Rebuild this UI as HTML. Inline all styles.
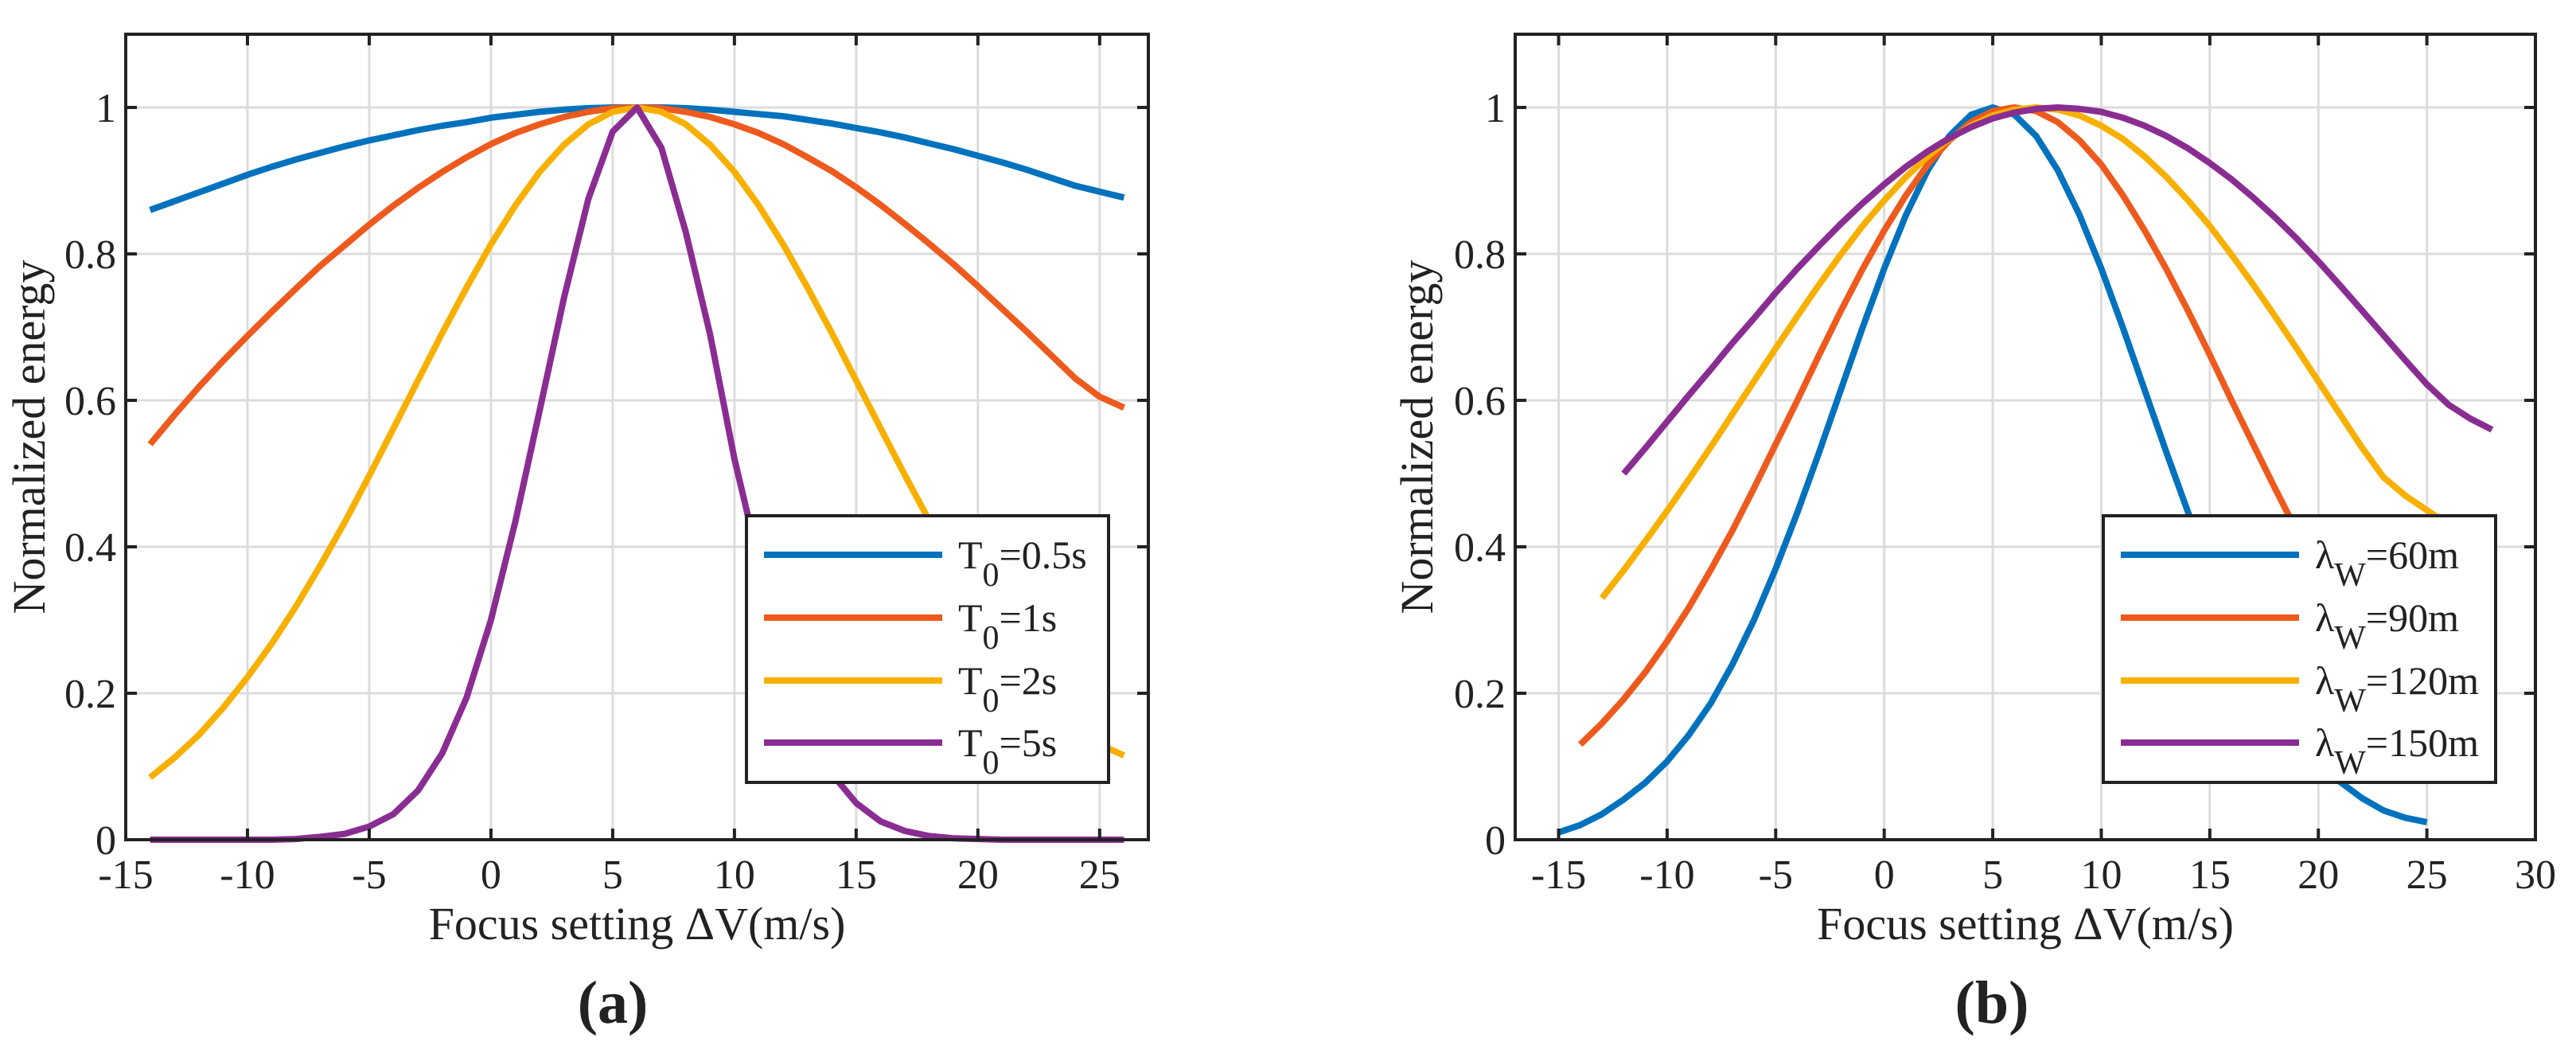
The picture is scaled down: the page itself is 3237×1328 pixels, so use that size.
<!DOCTYPE html>
<html><head><meta charset="utf-8"><style>
html,body{margin:0;padding:0;background:#fff;}
svg{display:block;}
text{font-family:"Liberation Serif","DejaVu Serif",serif;fill:#222;}
</style></head><body>
<svg id="fig" width="3237" height="1328" viewBox="0 0 3237 1328" xmlns="http://www.w3.org/2000/svg"></svg>
<script>
// ---------- data: panel (a) ----------
const xA = [-14,-13,-12,-11,-10,-9,-8,-7,-6,-5,-4,-3,-2,-1,0,1,2,3,4,5,6,7,8,9,10,11,12,13,14,15,16,17,18,19,20,21,22,23,24,25,26];
const aT05 = [0.860,0.872,0.884,0.896,0.908,0.919,0.929,0.938,0.947,0.955,0.962,0.969,0.975,0.980,0.986,0.990,0.994,0.997,0.999,1.0,1.0,1.0,0.999,0.997,0.994,0.991,0.988,0.983,0.978,0.972,0.966,0.959,0.951,0.943,0.934,0.925,0.915,0.904,0.893,0.885,0.877];
const aT1 = [0.540,0.580,0.618,0.654,0.688,0.721,0.753,0.784,0.812,0.840,0.866,0.890,0.912,0.932,0.950,0.965,0.977,0.987,0.994,0.999,1.0,0.999,0.994,0.987,0.977,0.965,0.950,0.932,0.913,0.891,0.867,0.841,0.814,0.786,0.756,0.725,0.694,0.662,0.630,0.605,0.590];
const aT2 = [0.085,0.112,0.143,0.180,0.222,0.268,0.319,0.375,0.434,0.497,0.562,0.627,0.692,0.754,0.813,0.866,0.912,0.949,0.977,0.994,1.0,0.994,0.977,0.949,0.912,0.866,0.813,0.754,0.692,0.627,0.562,0.498,0.436,0.378,0.323,0.274,0.229,0.189,0.155,0.130,0.115];
const aT5 = [0,0,0,0,0,0,0.001,0.004,0.008,0.018,0.035,0.067,0.118,0.194,0.300,0.434,0.586,0.740,0.875,0.967,1.0,0.945,0.830,0.690,0.520,0.380,0.250,0.150,0.090,0.050,0.025,0.012,0.005,0.002,0.001,0,0,0,0,0,0];
const aLabels = ["0.5s","1s","2s","5s"];
// ---------- data: panel (b) ----------
const xB60 = [-15,-14,-13,-12,-11,-10,-9,-8,-7,-6,-5,-4,-3,-2,-1,0,1,2,3,4,5,6,7,8,9,10,11,12,13,14,15,16,17,18,19,20,21,22,23,24,25];
const bW60 = [0.010,0.020,0.035,0.055,0.078,0.107,0.143,0.186,0.239,0.300,0.370,0.447,0.529,0.614,0.699,0.780,0.853,0.914,0.961,0.990,1.0,0.990,0.961,0.914,0.853,0.780,0.699,0.614,0.529,0.447,0.370,0.300,0.239,0.186,0.143,0.107,0.079,0.057,0.040,0.030,0.024];
const xB90 = [-14,-13,-12,-11,-10,-9,-8,-7,-6,-5,-4,-3,-2,-1,0,1,2,3,4,5,6,7,8,9,10,11,12,13,14,15,16,17,18,19,20,21,22,23,24,25,26];
const bW90 = [0.130,0.159,0.192,0.229,0.271,0.317,0.368,0.422,0.480,0.540,0.600,0.662,0.722,0.779,0.832,0.880,0.922,0.955,0.980,0.995,1.0,0.995,0.980,0.955,0.922,0.880,0.832,0.779,0.722,0.662,0.600,0.540,0.480,0.422,0.368,0.317,0.271,0.229,0.192,0.159,0.130];
const xB120 = [-13,-12,-11,-10,-9,-8,-7,-6,-5,-4,-3,-2,-1,0,1,2,3,4,5,6,7,8,9,10,11,12,13,14,15,16,17,18,19,20,21,22,23,24,25,26,27];
const bW120 = [0.330,0.368,0.408,0.449,0.492,0.536,0.581,0.626,0.671,0.715,0.758,0.799,0.838,0.873,0.905,0.933,0.957,0.975,0.989,0.997,1.0,0.997,0.989,0.975,0.957,0.933,0.905,0.873,0.838,0.799,0.758,0.715,0.671,0.626,0.581,0.536,0.495,0.470,0.450,0.430,0.410];
const xB150 = [-12,-11,-10,-9,-8,-7,-6,-5,-4,-3,-2,-1,0,1,2,3,4,5,6,7,8,9,10,11,12,13,14,15,16,17,18,19,20,21,22,23,24,25,26,27,28];
const bW150 = [0.500,0.535,0.571,0.607,0.642,0.678,0.712,0.747,0.780,0.811,0.841,0.869,0.895,0.919,0.940,0.958,0.973,0.985,0.993,0.998,1.0,0.998,0.994,0.986,0.975,0.961,0.944,0.924,0.902,0.877,0.850,0.821,0.790,0.757,0.723,0.689,0.655,0.622,0.594,0.575,0.560];
const bLabels = ["60m","90m","120m","150m"];
const yTicks = [0,0.2,0.4,0.6,0.8,1];
const yTickLabels = ["0","0.2","0.4","0.6","0.8","1"];
const xTicksA = [-15,-10,-5,0,5,10,15,20,25];
const xTicksB = [-15,-10,-5,0,5,10,15,20,25,30];

const colors = ["#0072BD","#EE5A1D","#F7B000","#8A2D92"];
const NS = "http://www.w3.org/2000/svg";
const svg = document.getElementById('fig');
function el(tag, attrs, parent, txt){
  const e = document.createElementNS(NS, tag);
  for (const k in attrs) e.setAttribute(k, attrs[k]);
  if (txt !== undefined) e.textContent = txt;
  (parent||svg).appendChild(e);
  return e;
}

function panel(cfg){
  const g = el('g', {});
  
  
  const X = v => cfg.x0 + (v - cfg.xmin) / (cfg.xmax - cfg.xmin) * (cfg.x1 - cfg.x0);
  const Y = v => cfg.y0 - (v - 0) / 1.1 * (cfg.y0 - cfg.y1);
  cfg.xTicks.forEach(t => {
    const l = el('line', {x1:X(t),x2:X(t),y1:cfg.y1,y2:cfg.y0,stroke:'#dcdcdc','stroke-width':3}, g);
    
    
  });
  yTicks.forEach(t => {
    const l = el('line', {x1:cfg.x0,x2:cfg.x1,y1:Y(t),y2:Y(t),stroke:'#dcdcdc','stroke-width':3}, g);
    
    
  });
  cfg.series.forEach((s, i) => {
    const pts = s.x.map((xv, j) => X(xv).toFixed(1) + ',' + Y(s.y[j]).toFixed(1)).join(' ');
    const p = el('polyline', {points:pts, fill:'none', stroke:colors[i], 'stroke-width':8, 'stroke-linejoin':'round'}, g);
    
    
  });
  const box = el('rect', {x:cfg.x0,y:cfg.y1,width:cfg.x1-cfg.x0,height:cfg.y0-cfg.y1,fill:'none',stroke:'#222','stroke-width':4}, g);
  
  
  cfg.xTicks.forEach((t, i) => {
    el('line', {x1:X(t),x2:X(t),y1:cfg.y0,y2:cfg.y0-14,stroke:'#222','stroke-width':4}, g);
    el('line', {x1:X(t),x2:X(t),y1:cfg.y1,y2:cfg.y1+14,stroke:'#222','stroke-width':4}, g);
    const tx = el('text', {x:X(t), y:1116, 'font-size':52, 'text-anchor':'middle'}, g, String(t));
    
    
  });
  yTicks.forEach((t, i) => {
    el('line', {x1:cfg.x0,x2:cfg.x0+14,y1:Y(t),y2:Y(t),stroke:'#222','stroke-width':4}, g);
    el('line', {x1:cfg.x1,x2:cfg.x1-14,y1:Y(t),y2:Y(t),stroke:'#222','stroke-width':4}, g);
    const tx = el('text', {x:cfg.x0-12, y:Y(t)+18, 'font-size':52, 'text-anchor':'end'}, g, yTickLabels[i]);
    
    
  });
  const xt = el('text', {x:(cfg.x0+cfg.x1)/2, y:1180, 'font-size':58, 'text-anchor':'middle'}, g, 'Focus setting \u0394V(m/s)');
  
  
  const yx = cfg.ytx, yy = (cfg.y0+cfg.y1)/2;
  const yt = el('text', {x:yx, y:yy, 'font-size':58, 'text-anchor':'middle', transform:'rotate(-90 '+yx+' '+yy+')'}, g, 'Normalized energy');
  
  
  const cap = el('text', {x:cfg.capx, y:1285, 'font-size':76, 'font-weight':'bold', 'text-anchor':'middle'}, g, cfg.cap);
  
  
  const lg = el('g', {}, g);
  
  
  el('rect', {x:cfg.lx0, y:648, width:cfg.lx1-cfg.lx0, height:335, fill:'#fff', stroke:'#222', 'stroke-width':4}, lg);
  const rows = [697,776,855,933];
  cfg.series.forEach((s, i) => {
    const e = el('g', {}, lg);
    
    
    el('line', {x1:cfg.lx0+22, x2:cfg.lx0+246, y1:rows[i], y2:rows[i], stroke:colors[i], 'stroke-width':8}, e);
    const t = el('text', {x:cfg.lx0+266, y:rows[i]+17, 'font-size':50}, e);
    el('tspan', {}, t, cfg.sym);
    el('tspan', {dy:22, 'font-size':42}, t, cfg.sub);
    el('tspan', {dy:-22, 'font-size':50}, t, '=' + s.label);
  });
}

panel({name:'panel-a', x0:158, x1:1443, xmin:-15, xmax:27, y0:1055, y1:43, xTicks:xTicksA,
  ytx:56, cap:'(a)', capx:770, lx0:938, lx1:1393, sym:'T', sub:'0',
  series:[{x:xA,y:aT05,label:aLabels[0]},{x:xA,y:aT1,label:aLabels[1]},{x:xA,y:aT2,label:aLabels[2]},{x:xA,y:aT5,label:aLabels[3]}]});
panel({name:'panel-b', x0:1904, x1:3186, xmin:-17, xmax:30, y0:1055, y1:43, xTicks:xTicksB,
  ytx:1800, cap:'(b)', capx:2503, lx0:2643, lx1:3136, sym:'\u03BB', sub:'W',
  series:[{x:xB60,y:bW60,label:bLabels[0]},{x:xB90,y:bW90,label:bLabels[1]},{x:xB120,y:bW120,label:bLabels[2]},{x:xB150,y:bW150,label:bLabels[3]}]});
</script>
</body></html>
